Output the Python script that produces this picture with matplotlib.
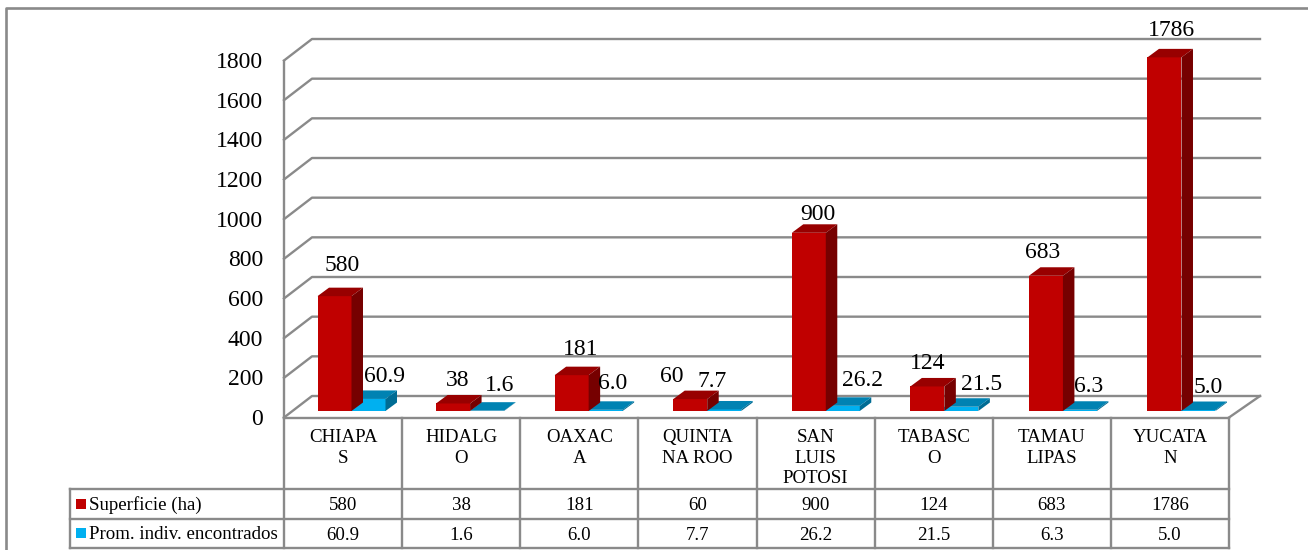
import numpy as np
import matplotlib
matplotlib.use('Agg')
import matplotlib.pyplot as plt
from matplotlib.patches import Polygon, Rectangle

plt.rcParams['font.family'] = ['Liberation Serif', 'DejaVu Serif']

# datos
estados = ['CHIAPA\nS', 'HIDALG\nO', 'OAXAC\nA', 'QUINTA\nNA ROO', 'SAN\nLUIS\nPOTOSI',
           'TABASC\nO', 'TAMAU\nLIPAS', 'YUCATA\nN']
superficie = [580, 38, 181, 60, 900, 124, 683, 1786]
promedio = [60.9, 1.6, 6.0, 7.7, 26.2, 21.5, 6.3, 5.0]
ticks = [0, 200, 400, 600, 800, 1000, 1200, 1400, 1600, 1800]
nombres = ['Superficie (ha)', 'Prom. indiv. encontrados']

# desplazamiento de las etiquetas (pixeles, respecto a la barra)
off_sup = [(8, 31), (5, 23), (9, 26), (-18, 23), (9, 18), (0, 23), (-3, 23), (7, 27)]
off_pro = [(16, 22), (13, 25), (7, 26), (-12, 28), (20, 25), (20, 22), (9, 23), (10, 23)]

W, H = 1308, 550
px_x = 118.57           # pixeles por categoria
px_y = 0.198            # pixeles por hectarea
x0, y0 = 351.5, 411     # centro de la primera categoria, base de las barras
ancho = 34 / px_x
dx, dy = 11.5 / px_x, 8.5 / px_y

fig = plt.figure(figsize=(W / 100, H / 100), dpi=100)
ax = fig.add_axes([0, 0, 1, 1])
ax.set_xlim(-x0 / px_x, (W - x0) / px_x)
ax.set_ylim((y0 - H) / px_y, y0 / px_y)
ax.axis('off')

# capa en pixeles para marco, tabla y rejilla
ov = fig.add_axes([0, 0, 1, 1], zorder=0)
ov.set_xlim(0, W)
ov.set_ylim(H, 0)
ov.axis('off')
ax.set_zorder(1)
ax.patch.set_alpha(0)

gris = '#8a8a8a'

# marco exterior
ov.plot([1308, 6, 6], [8, 8, 550], color=gris, lw=1.9)

# rejilla 3D
front = lambda v: 417.5 - v * 357 / 1800
for t in ticks:
    f = front(t)
    ov.plot([284, 312, 1260], [f, f - 21.5, f - 21.5], color=gris, lw=1.7)
    ov.text(263, f + 2, str(t), ha='right', va='center', fontsize=17, color='black')
ov.plot([284, 284], [front(1800), front(0)], color=gris, lw=1.7)
ov.plot([1229, 1260], [front(0), front(0) - 21.5], color=gris, lw=1.7)

# tabla
col = np.linspace(284, 1229, len(estados) + 1)
filas = [418, 489, 519, 548]
ov.plot([284, 1229], [filas[0], filas[0]], color=gris, lw=1.7)
for c in col:
    ov.plot([c, c], [filas[0], filas[3]], color=gris, lw=1.7)
ov.plot([70, 70], [filas[1], filas[3]], color=gris, lw=1.7)
for f in filas[1:]:
    ov.plot([70, 1229], [f, f], color=gris, lw=1.7)
for i, e in enumerate(estados):
    c = (col[i] + col[i + 1]) / 2
    ov.text(c, 429, e, ha='center', va='top', fontsize=13.6, linespacing=1.27)
    ov.text(c, 505.5, str(superficie[i]), ha='center', va='center', fontsize=13.6)
    ov.text(c, 535, f'{promedio[i]:.1f}', ha='center', va='center', fontsize=13.6)
ov.add_patch(Rectangle((76, 499), 10, 10, color='#C00000', lw=0))
ov.add_patch(Rectangle((76, 528), 10, 10, color='#00B0F0', lw=0))
ov.text(89, 505, nombres[0], ha='left', va='center', fontsize=13.6)
ov.text(89, 534.5, nombres[1], ha='left', va='center', fontsize=13.6)


def barra(xc, v, frente, arriba, lado):
    izq, der = xc - ancho / 2, xc + ancho / 2
    ax.bar(xc, v, ancho, color=frente, linewidth=0, zorder=3)
    ax.add_patch(Polygon([(izq, v), (der, v), (der + dx, v + dy), (izq + dx, v + dy)],
                         color=arriba, lw=0, zorder=3))
    ax.add_patch(Polygon([(der, 0), (der + dx, dy), (der + dx, v + dy), (der, v)],
                         color=lado, lw=0, zorder=3))


xs = np.arange(len(estados))
for i in xs:
    barra(i + ancho / 2, promedio[i], '#00B0F0', '#0082B2', '#006C94')
    barra(i - ancho / 2, superficie[i], '#C00000', '#980000', '#760000')

# etiquetas de datos
for i in xs:
    ox, oy = off_sup[i]
    ax.text(i - ancho / 2 + ox / px_x, superficie[i] + oy / px_y, str(superficie[i]),
            ha='center', va='center', fontsize=17, zorder=5)
    ox, oy = off_pro[i]
    ax.text(i + ancho / 2 + ox / px_x, promedio[i] + oy / px_y, f'{promedio[i]:.1f}',
            ha='center', va='center', fontsize=17, zorder=5)

fig.savefig('out.png', dpi=100)
